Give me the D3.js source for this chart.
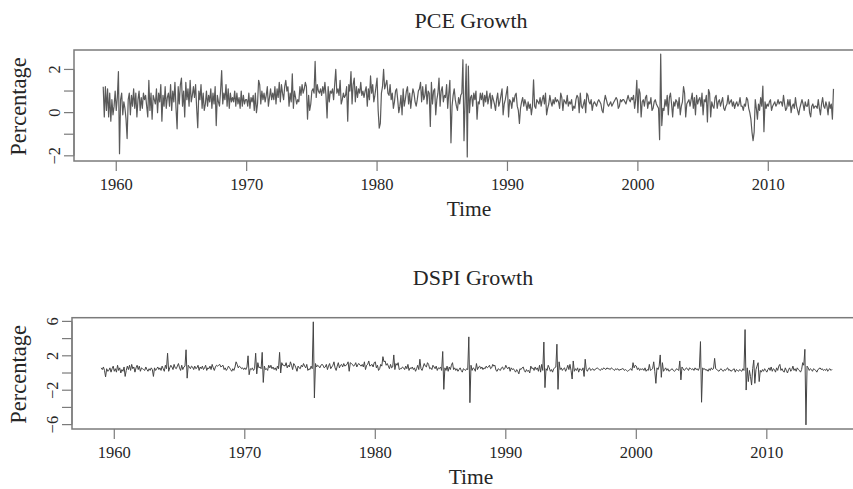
<!DOCTYPE html>
<html>
<head>
<meta charset="utf-8">
<script src="https://cdn.jsdelivr.net/npm/d3@7"></script>
<style>
  body { margin: 0; background: #fff; }
  svg text { font-family: "Liberation Serif", "DejaVu Serif", serif; fill: #262626; }
</style>
</head>
<body>
<svg id="chart" width="853" height="489"></svg>
<script>
// monthly growth rates (percent), Jan 1959 .. Jan 2015
var startYear = 1959;
var periodsPerYear = 12;

var pceGrowth = [
  1.2, -0.2, 1.2, 0.1, 1.1, -0.2, 0.9, -0.4, 0.6, -0.1, 0.3, 1.0,     // 1959
  0.1, 0.7, 1.9, -1.9, 0.6, 0.9, -0.1, 0.5, 0.2, -0.3, -1.2, 0.6,     // 1960
  0.9, -0.1, 0.8, 0.3, 1.1, 0.2, 0.9, -0.2, 0.6, 1.0, 0.1, 0.7,
  0.2, 0.9, 0.6, 0.8, 0.3, -0.2, 1.5, 0.1, 0.9, -0.3, 0.8, 0.6,
  0.4, 1.1, 0.0, 0.9, 0.5, 1.3, -0.4, 0.8, 0.3, 1.2, 0.2, 0.7,
  0.9, 0.3, 1.3, 0.1, 1.0, 0.5, 1.4, 0.2, -0.75, 1.2, 0.4, 1.3,
  1.6, 0.3, 1.0, -0.2, 1.4, 0.6, 1.1, 0.3, 1.5, 0.5, 0.8, 1.2,       // 1965
  0.7, 1.3, 0.2, -0.7, 1.0, 0.6, 1.3, 0.2, 0.9, 0.1, 0.4, 1.0,
  0.3, 0.8, 0.5, 1.1, 0.2, 0.9, 0.4, 1.2, -0.6, 0.8, 0.5, 0.3,
  1.0, 1.95, 0.4, 0.9, 0.6, 1.3, 0.3, 1.1, 0.2, 0.9, 0.5, 0.7,
  0.5, 1.0, 0.3, 0.9, 0.4, 0.7, 0.2, 1.0, 0.3, 0.8, 0.4, 0.6,
  0.6, 0.3, 0.9, 0.2, 0.7, 0.5, 0.8, 0.1, 0.9, 0.0, 0.4, 1.5,        // 1970
  1.3, 0.4, 1.0, 0.6, 0.9, 0.5, 0.8, 1.2, 0.3, 0.7, 1.1, 0.6,
  0.9, 0.6, 1.2, 0.4, 1.1, 0.7, 1.4, 0.5, 1.3, 0.9, 0.6, 1.2,
  1.5, 1.0, 1.2, 0.3, 0.9, 0.5, 1.8, 0.2, 1.0, 0.7, 0.4, 0.6,
  0.5, 1.2, 0.8, 1.3, 0.9, 1.1, 1.4, 1.2, -0.3, 0.8, 0.1, 0.4,
  1.0, 1.1, 0.9, 2.37, 0.7, 1.3, 1.0, 0.9, 1.1, 0.8, 1.2, 0.9,       // 1975
  1.4, 0.8, -0.25, 1.2, 0.5, 1.0, 0.9, 1.1, 0.6, 1.3, 2.0, 0.9,
  1.1, 0.8, 1.5, 0.4, 0.6, 0.9, 0.7, 0.8, 1.2, -0.4, 1.3, 1.0,
  1.9, 0.4, 1.3, 1.6, 0.5, 1.2, 0.7, 1.1, 0.9, 1.4, 0.8, 1.0,
  0.7, 1.0, 1.2, 0.3, 1.1, 0.6, 1.7, 0.9, 1.3, 0.5, 0.8, 1.2,
  1.6, 0.1, -0.72, -0.5, 0.9, 1.2, 2.0, 1.1, 1.3, 1.5, 0.9, 0.8,     // 1980
  1.3, 0.6, 0.9, 0.2, 0.5, 1.0, 1.1, 0.6, 0.0, 0.3, 0.8, -0.1,
  1.1, 0.3, 0.6, 1.0, 1.2, 0.4, 0.9, 0.2, 0.7, 1.1, 0.9, 0.5,
  0.3, 0.6, 1.0, 1.1, 1.4, 0.5, 1.2, 0.6, 0.8, 1.3, 0.4, 1.0,
  0.9, -0.64, 1.4, 0.4, 1.0, 1.1, -0.1, 0.6, 0.9, 1.6, 0.3, 1.0,
  1.2, 0.5, 0.8, 0.7, 1.3, 0.2, 0.9, 1.5, -1.4, 0.3, 0.8, 1.1,       // 1985
  0.6, 0.3, 0.1, 0.7, 0.4, 0.8, 0.9, 2.45, -1.3, 0.5, 2.25, -2.05,
  2.15, 0.0, 0.7, 0.8, 0.3, 0.9, 0.6, 1.0, -0.3, 0.5, 0.4, 0.9,
  0.6, 0.9, 0.3, 0.8, 0.5, 1.0, 0.4, 0.7, 0.9, 0.2, 0.8, 0.6,
  0.4, 0.1, 0.6, 0.9, 0.3, 0.5, 0.8, 1.1, -0.1, 0.4, 0.6, 0.9,
  1.2, -0.2, 0.6, 0.5, 0.2, 0.7, 0.5, 0.8, 0.9, 0.3, 0.1, -0.5,      // 1990
  0.2, 0.5, 0.7, 0.3, 0.6, 0.4, 0.1, 0.5, 0.2, 0.4, -0.1, 0.3,
  1.52, 0.3, 0.2, 0.6, 0.5, 0.4, 0.7, 0.3, 0.6, 0.8, 0.4, 0.9,
  -0.1, 0.2, 0.4, 0.8, 0.5, 0.3, 0.6, 0.4, 0.7, 0.5, 0.6, 0.5,
  0.2, 0.9, 0.7, 0.1, 0.6, 0.5, 0.4, 0.8, 0.3, 0.5, 0.4, 0.6,
  0.1, 0.3, 0.2, 0.6, 0.8, 0.7, 0.0, 0.9, 0.3, 0.2, 0.4, 0.6,        // 1995
  0.0, 0.9, 0.8, 0.5, 0.4, 0.6, 0.1, 0.4, 0.5, 0.4, 0.3, 0.5,
  0.6, 0.5, 0.4, 0.1, 0.0, 0.5, 0.8, 0.6, 0.4, 0.3, 0.4, 0.5,
  0.3, 0.4, 0.5, 0.6, 0.7, 0.6, 0.2, 0.3, 0.6, 0.5, 0.6, 0.6,
  0.5, 0.4, 0.6, 0.8, 0.6, 0.5, 0.7, 0.6, 0.8, 0.2, 0.6, 1.5,
  0.0, 1.1, 0.9, -0.2, 0.5, 0.6, 0.3, 0.7, 0.8, 0.2, 0.5, 0.4,       // 2000
  0.7, 0.1, 0.2, 0.5, 0.6, 0.4, 0.3, 0.2, -1.25, 2.71, -0.6, 0.2,
  0.1, 0.6, 0.3, 0.8, -0.1, 0.7, 0.9, 0.4, -0.2, 0.5, 0.3, 0.6,
  0.5, 0.2, 0.7, -0.1, 0.3, 0.5, 1.2, 0.9, -0.2, 0.4, 0.5, 0.6,
  0.3, 0.6, 0.9, 0.2, 0.7, -0.1, 0.8, 0.4, 0.6, 0.7, 0.3, 0.9,
  -0.1, 0.6, 0.5, 0.8, -0.43, 1.07, 0.9, -0.2, 0.5, 0.3, 0.2, 0.7,   // 2005
  0.8, 0.2, 0.5, 0.6, 0.3, 0.5, 0.7, 0.2, 0.1, 0.3, 0.4, 0.8,
  0.4, 0.5, 0.6, 0.3, 0.5, 0.2, 0.4, 0.5, 0.3, 0.4, 0.7, 0.3,
  0.3, 0.1, 0.4, 0.3, 0.7, 0.6, 0.2, 0.0, -0.3, -0.9, -1.3, -0.9,
  0.6, 0.2, -0.3, 0.4, 0.1, 0.7, 0.3, 1.23, -0.88, 0.5, 0.2, 0.4,
  0.3, 0.5, 0.6, 0.1, 0.3, 0.4, 0.5, 0.3, 0.4, 0.6, 0.4, 0.5,        // 2010
  0.5, 0.3, 0.8, 0.4, 0.1, 0.2, 0.6, 0.3, 0.6, 0.0, 0.3, 0.4,
  0.2, 0.7, 0.3, 0.1, -0.1, 0.2, 0.4, 0.6, 0.4, 0.1, 0.5, 0.3,
  0.3, 0.6, 0.0, -0.2, 0.3, 0.4, 0.2, 0.3, 0.3, 0.2, 0.6, 0.2,
  -0.1, 0.4, 0.7, 0.3, 0.2, 0.5, 0.3, -0.1, 0.5, 0.2, 0.4, -0.3,
  1.1                                                                 // 2015
];

var dspiGrowth = [
  0.6, 0.4, 0.7, 0.3, -0.45, 0.5, 0.2, 0.3, 0.6, 0.1, 0.5, 0.8,      // 1959
  0.2, 0.5, 0.1, 0.9, 0.3, 0.6, 0.0, 0.4, 0.2, 0.7, -0.4, 0.3,       // 1960
  0.8, 0.4, 0.9, 0.3, 1.0, 0.5, 0.7, 0.1, 0.6, 0.9, 0.4, 0.8,
  0.2, 0.6, 0.5, 0.4, 0.3, 0.7, 0.4, 0.2, 0.5, 0.3, 0.6, 0.4,
  -0.4, 0.6, 0.3, 0.5, 0.7, 0.4, 0.6, 0.3, 0.8, 0.5, 0.2, 0.9,
  0.5, 2.3, 0.2, 0.6, 0.9, 0.7, 0.4, 1.0, 0.6, 0.5, 0.8, 1.1,
  0.6, 0.3, 0.9, 0.4, 0.7, 0.8, 2.7, -0.6, 0.9, 0.7, 0.5, 0.8,       // 1965
  0.7, 0.4, 0.8, 0.5, 0.6, 0.9, 0.3, 0.7, 0.5, 0.8, 0.4, 0.6,
  0.9, 0.3, 0.6, 0.5, 0.8, 0.4, 1.0, 0.6, 0.3, 0.7, 0.9, 0.8,
  0.9, 1.0, 0.7, 0.8, 0.9, 0.4, 0.6, 0.3, 0.5, 0.8, 0.6, 0.4,
  0.2, 0.5, 0.3, 0.7, 1.3, 1.0, 0.6, 0.8, 0.7, 0.5, 0.6, 0.4,
  0.6, 0.4, 0.7, 2.0, -0.2, 0.5, 0.4, 0.6, 0.3, 0.5, 2.3, -0.1,      // 1970
  1.2, 0.6, 0.7, 0.5, 2.4, -1.1, 0.8, 0.4, 0.5, 0.3, 0.9, 0.6,
  0.9, 0.5, 0.7, 0.4, 0.6, 0.3, 0.8, 0.5, 2.4, 0.0, 1.2, 0.9,
  0.9, 0.8, 1.2, 0.6, 0.9, 0.7, 1.3, 0.9, 0.4, 1.1, 0.9, 0.6,
  0.2, 0.8, 0.6, 0.5, 0.9, 0.7, 1.1, 0.8, 0.6, 1.0, 0.3, 0.5,
  0.4, 0.8, 0.5, 5.95, -2.9, 1.1, 0.7, 0.9, 0.8, 0.6, 0.9, 1.0,      // 1975
  0.9, 0.6, 0.7, 1.0, 0.4, 0.8, 1.1, 0.5, 0.7, 0.9, 1.3, 0.6,
  0.3, 0.8, 1.2, 0.6, 0.9, 1.0, 0.7, 1.1, 0.8, 0.9, 1.0, 1.3,
  0.2, 1.2, 1.1, 1.0, 0.8, 0.9, 1.2, 0.7, 1.0, 1.1, 0.9, 0.8,
  1.0, 0.7, 1.3, 0.4, 0.9, 1.0, 1.4, 0.8, 0.9, 1.0, 0.7, 1.2,
  1.3, 0.6, 0.9, 0.3, 0.5, 1.0, 0.8, 1.9, 1.3, 1.4, 0.9, 1.1,        // 1980
  0.8, 0.5, 1.0, 0.6, 0.7, 2.1, 0.4, 1.1, 0.9, 1.2, 0.4, 0.5,
  0.5, 0.7, 0.6, 0.4, 0.8, 0.5, 1.0, 0.3, 0.6, 0.5, 0.7, 0.4,
  0.6, 0.2, 0.5, 0.9, 0.4, 1.6, 0.5, 0.3, 0.7, 1.1, 0.8, 0.7,
  1.2, 1.0, 0.5, 0.6, 0.4, 0.9, 0.7, 0.5, 0.8, 0.3, 0.6, 0.5,
  0.7, 0.3, 2.5, -1.9, 0.6, 0.3, 0.8, 0.2, 0.7, 0.4, 0.9, 1.2,       // 1985
  0.4, 0.6, 0.3, 0.5, 0.2, 0.4, 0.6, 0.3, 0.1, 0.5, 0.4, 0.3,
  0.5, 0.4, 4.2, -3.45, 0.9, 0.3, 0.6, 0.5, 0.2, 1.1, 0.4, 0.7,
  0.8, 0.5, 0.7, 0.4, 0.6, 0.5, 0.8, 0.6, 0.7, 0.9, 0.5, 0.6,
  1.0, 0.8, 0.9, 0.3, 0.2, 0.5, 0.4, 0.3, 0.6, 0.7, 0.4, 0.5,
  0.9, 0.6, 0.5, 0.7, 0.2, 0.6, 0.4, 0.5, 0.3, 0.1, 0.4, 0.2,        // 1990
  -0.1, 0.5, 0.4, 0.6, 0.7, 0.3, 0.1, 0.4, 0.2, 0.3, 0.0, 0.8,
  0.5, 0.6, 0.3, 0.7, 0.4, 0.6, 0.2, 0.9, 0.1, 1.0, 0.3, 3.6,
  -1.7, 0.5, 0.3, 0.9, 0.6, 0.2, 0.4, 0.1, 0.5, 0.6, 0.7, 3.35,
  -1.9, 1.3, 0.4, 0.6, 0.3, 0.5, 0.6, 0.2, 0.5, 0.9, 0.4, 1.0,
  0.3, -0.7, 1.4, 0.2, 0.5, 0.3, 0.6, 0.1, 0.5, 0.4, 0.3, 0.6,       // 1995
  -0.4, 1.6, 0.4, 0.2, 0.5, 0.6, 0.3, 0.4, 0.5, 0.3, 0.4, 0.5,
  0.6, 0.5, 0.4, 0.3, 0.5, 0.4, 0.6, 0.5, 0.4, 0.6, 0.5, 0.5,
  0.4, 0.6, 0.5, 0.4, 0.3, 0.5, 0.4, 0.5, 0.3, 0.4, 0.4, 0.5,
  0.5, 0.3, 0.4, 0.3, 0.2, 0.3, 0.4, 0.5, 0.3, 1.2, 0.6, 0.9,
  0.8, 0.4, 0.6, 0.3, 0.5, 0.4, 0.5, 0.3, 0.6, 0.2, 0.4, 0.3,        // 2000
  1.0, 0.3, 0.4, 0.5, 1.3, 0.2, -1.2, 0.6, 0.4, 0.8, 2.1, -0.5,
  1.2, 0.2, 0.4, 0.6, 0.3, 0.5, 0.2, 0.3, 0.4, 0.5, 0.3, 0.2,
  0.3, 0.5, 0.4, 0.3, 1.4, -0.8, 0.7, 0.5, 0.3, 0.4, 0.6, 0.5,
  0.3, 0.6, 0.5, 0.4, 0.5, 0.3, 0.6, 0.4, 0.5, 0.3, 0.6, 3.65,
  -3.4, 0.6, 0.4, 0.5, 0.3, 0.4, 0.2, 0.5, 0.3, 0.6, 0.4, 0.5,       // 2005
  1.7, 0.5, 0.4, 0.3, 0.2, 0.4, 0.5, 0.3, 0.2, 0.4, 0.3, 0.5,
  0.6, 0.3, 0.4, 0.2, 0.3, 0.4, 0.5, 0.1, 0.4, 0.3, 0.2, 0.4,
  0.3, 0.2, 0.5, 0.3, 5.05, -1.98, 0.6, -1.0, 0.3, -0.4, -1.4, 0.5,
  1.5, -1.2, 0.4, 0.8, 1.2, -1.0, 0.3, 0.1, 0.4, 0.2, 0.5, 0.3,
  0.1, 0.4, 0.6, 0.3, 0.7, 0.2, 0.5, 0.4, 0.1, 0.6, 0.3, 0.8,        // 2010
  1.0, 0.3, 0.5, 0.2, 0.1, 0.6, 0.3, 0.0, 0.4, 0.6, 0.2, 0.4,
  0.8, 0.3, 0.5, 0.2, 0.6, 0.4, 0.3, 0.1, 0.4, 1.2, 0.9, 2.75,
  -6.03, 0.8, 0.6, 0.3, 0.5, 0.4, 0.2, 0.5, 0.4, 0.3, 0.1, 0.4,
  0.5, 0.6, 0.4, 0.5, 0.3, 0.4, 0.3, 0.5, 0.2, 0.4, 0.5, 0.3,
  0.43                                                                // 2015
];

var xTicks = [1960, 1970, 1980, 1990, 2000, 2010];
var pceTicks = [-2, -1, 0, 1, 2];
var pceTickLabels = [-2, 0, 2];
var dspiTicks = [-6, -4, -2, 0, 2, 4, 6];
var dspiTickLabels = [-6, -2, 2, 6];

var boxColor = "#7b7b7b",
    tickLen = 10;

var svg = d3.select("#chart");

function fmt(v) {
    return v < 0 ? "\u2212" + Math.abs(v) : String(v);
}

function drawPanel(cfg, values, ticks, tickLabels, title) {
    var t0 = startYear,
        t1 = startYear + (values.length - 1) / periodsPerYear,
        xPad = (t1 - t0) * 0.04;
    var lo = d3.min(values), hi = d3.max(values), yPad = (hi - lo) * 0.04;

    var x = d3.scaleLinear().domain([t0 - xPad, t1 + xPad]).range([cfg.left, cfg.right]);
    var y = d3.scaleLinear().domain([lo - yPad, hi + yPad]).range([cfg.bottom, cfg.top]);

    var g = svg.append("g");

    // series
    var line = d3.line()
        .x(function(d, i) { return x(t0 + i / periodsPerYear); })
        .y(function(d) { return y(d); });
    g.append("path")
        .datum(values)
        .attr("d", line)
        .attr("fill", "none")
        .attr("stroke", cfg.lineColor)
        .attr("stroke-width", cfg.lineWidth)
        .attr("stroke-linejoin", "round");

    // box
    g.append("rect")
        .attr("x", cfg.left)
        .attr("y", cfg.top)
        .attr("width", cfg.right - cfg.left)
        .attr("height", cfg.bottom - cfg.top)
        .attr("fill", "none")
        .attr("stroke", boxColor)
        .attr("stroke-width", 1.5);

    // x axis
    var xAxis = g.append("g");
    xAxis.selectAll("line")
        .data(xTicks)
        .enter()
        .append("line")
        .attr("x1", function(d) { return x(d); })
        .attr("x2", function(d) { return x(d); })
        .attr("y1", cfg.bottom)
        .attr("y2", cfg.bottom + tickLen)
        .attr("stroke", boxColor)
        .attr("stroke-width", 1.2);
    xAxis.selectAll("text")
        .data(xTicks)
        .enter()
        .append("text")
        .attr("x", function(d) { return x(d); })
        .attr("y", cfg.bottom + 29)
        .attr("text-anchor", "middle")
        .style("font-size", "16.5px")
        .text(function(d) { return d; });

    // y axis
    var yAxis = g.append("g");
    yAxis.append("line")
        .attr("x1", cfg.left).attr("x2", cfg.left)
        .attr("y1", y(ticks[0])).attr("y2", y(ticks[ticks.length - 1]))
        .attr("stroke", boxColor)
        .attr("stroke-width", 1.2);
    yAxis.selectAll("line.tick")
        .data(ticks)
        .enter()
        .append("line")
        .attr("class", "tick")
        .attr("x1", cfg.left - tickLen)
        .attr("x2", cfg.left)
        .attr("y1", function(d) { return y(d); })
        .attr("y2", function(d) { return y(d); })
        .attr("stroke", boxColor)
        .attr("stroke-width", 1.2);
    yAxis.selectAll("text")
        .data(tickLabels)
        .enter()
        .append("text")
        .attr("transform", function(d) {
            return "translate(" + (cfg.left - 14) + "," + y(d) + ") rotate(-90)";
        })
        .attr("text-anchor", "middle")
        .style("font-size", "16.5px")
        .text(fmt);

    // titles
    g.append("text")
        .attr("x", cfg.titleX)
        .attr("y", cfg.titleY)
        .attr("text-anchor", "middle")
        .style("font-size", "22px")
        .text(title);
    g.append("text")
        .attr("x", cfg.titleX - 2)
        .attr("y", cfg.bottom + 55)
        .attr("text-anchor", "middle")
        .style("font-size", "21.5px")
        .text("Time");
    g.append("text")
        .attr("transform", "translate(26," + ((cfg.top + cfg.bottom) / 2 + 1) + ") rotate(-90)")
        .attr("text-anchor", "middle")
        .style("font-size", "22.5px")
        .text("Percentage");
}

drawPanel({ left: 74, right: 862.7, top: 50, bottom: 161, titleX: 471, titleY: 28,
            lineWidth: 1.2, lineColor: "#5a5a5a" },
    pceGrowth, pceTicks, pceTickLabels, "PCE Growth");
drawPanel({ left: 72, right: 861.3, top: 317.7, bottom: 429, titleX: 473, titleY: 284.5,
            lineWidth: 1, lineColor: "#444" },
    dspiGrowth, dspiTicks, dspiTickLabels, "DSPI Growth");
</script>
</body>
</html>
